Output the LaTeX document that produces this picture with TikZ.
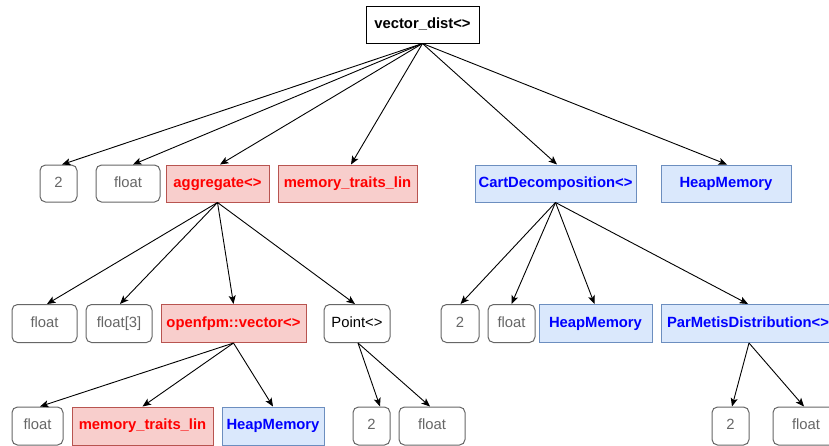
\documentclass[tikz,border=0pt]{standalone}
\usepackage{fontspec}
\setmainfont{Liberation Sans}
\usetikzlibrary{arrows.meta}
\definecolor{greyc}{HTML}{666666}
\definecolor{redfill}{HTML}{F8CECC}
\definecolor{redline}{HTML}{B85450}
\definecolor{redtext}{HTML}{FF0000}
\definecolor{bluefill}{HTML}{DAE8FC}
\definecolor{blueline}{HTML}{6C8EBF}
\definecolor{bluetext}{HTML}{0000FF}
\tikzset{
  base/.style={inner sep=0pt, line width=1pt, font=\fontsize{14.8}{16}\selectfont, anchor=center, text height=10.6pt, text depth=3.1pt},
  rootbox/.style={base, draw=black, fill=white, font=\fontsize{14.8}{16}\selectfont\bfseries},
  greybox/.style={base, draw=greyc, fill=white, text=greyc, rounded corners=5.5pt},
  plainbox/.style={base, draw=greyc, fill=white, text=black, rounded corners=5.5pt},
  redbox/.style={base, draw=redline, fill=redfill, text=redtext, font=\fontsize{14.8}{16}\selectfont\bfseries},
  bluebox/.style={base, draw=blueline, fill=bluefill, text=bluetext, font=\fontsize{14.8}{16}\selectfont\bfseries},
  conn/.style={line width=0.9pt, -{Stealth[length=8.5pt,width=7pt,inset=2pt]}},
}
\begin{document}
\begin{tikzpicture}[x=1pt,y=-1pt]
\useasboundingbox (0,0) rectangle (829,445);
\clip (0,0) rectangle (829,445);
% root
\node[rootbox, minimum width=113, minimum height=37] (root) at (422.5,24.5) {vector\_dist<>};
% row 1
\node[greybox, minimum width=37, minimum height=37] (a2) at (58.5,183.5) {2};
\node[greybox, minimum width=64, minimum height=37] (afl) at (128,183.5) {float};
\node[redbox, minimum width=103, minimum height=37] (agg) at (217.5,183.5) {aggregate<>};
\node[redbox, minimum width=139, minimum height=37] (mtl) at (347.5,183.5) {memory\_traits\_lin};
\node[bluebox, minimum width=161, minimum height=37] (cart) at (555.5,183.5) {CartDecomposition<>};
\node[bluebox, minimum width=130, minimum height=37] (heap) at (726,183.5) {HeapMemory};
% row 2
\node[greybox, minimum width=65, minimum height=38] (bfl) at (44.5,323.5) {float};
\node[greybox, minimum width=66, minimum height=38] (bfl3) at (119,323.5) {float[3]};
\node[redbox, minimum width=145, minimum height=38] (ovec) at (233.5,323.5) {openfpm::vector<>};
\node[plainbox, minimum width=66, minimum height=38] (pt) at (357,323.5) {Point<>};
\node[greybox, minimum width=38, minimum height=38] (b2) at (460,323.5) {2};
\node[greybox, minimum width=47, minimum height=38] (bfl2) at (511.5,323.5) {float};
\node[bluebox, minimum width=113, minimum height=38] (bheap) at (595.5,323.5) {HeapMemory};
\node[bluebox, minimum width=174, minimum height=38] (par) at (748,323.5) {ParMetisDistribution<>};
% row 3
\node[greybox, minimum width=51, minimum height=38] (cfl) at (37.5,426) {float};
\node[redbox, minimum width=141, minimum height=38] (cmtl) at (142.5,426) {memory\_traits\_lin};
\node[bluebox, minimum width=102, minimum height=38] (cheap) at (273,426) {HeapMemory};
\node[greybox, minimum width=37, minimum height=38] (c2) at (371.5,426) {2};
\node[greybox, minimum width=66, minimum height=38] (cfl2) at (432,426) {float};
\node[greybox, minimum width=37, minimum height=38] (d2) at (730.5,426) {2};
\node[greybox, minimum width=66, minimum height=38] (dfl) at (806,426) {float};
% connectors
\draw[conn] (root.south) -- ([xshift=3.5]a2.north);
\draw[conn] (root.south) -- ([xshift=5]afl.north);
\draw[conn] (root.south) -- ([xshift=2.5]agg.north);
\draw[conn] (root.south) -- ([xshift=3.5]mtl.north);
\draw[conn] (root.south) -- ([xshift=1.5]cart.north);
\draw[conn] (root.south) -- ([xshift=1]heap.north);
\draw[conn] (agg.south) -- ([xshift=2.5]bfl.north);
\draw[conn] (agg.south) -- ([xshift=1]bfl3.north);
\draw[conn] (agg.south) -- (ovec.north);
\draw[conn] (agg.south) -- ([xshift=-2]pt.north);
\draw[conn] (cart.south) -- ([xshift=0.5]b2.north);
\draw[conn] (cart.south) -- (bfl2.north);
\draw[conn] (cart.south) -- ([xshift=-1]bheap.north);
\draw[conn] (cart.south) -- (par.north);
\draw[conn] (ovec.south) -- ([xshift=2.5]cfl.north);
\draw[conn] (ovec.south) -- (cmtl.north);
\draw[conn] (ovec.south) -- (cheap.north);
\draw[conn] ([xshift=1]pt.south) -- ([xshift=8.5]c2.north);
\draw[conn] ([xshift=1]pt.south) -- ([xshift=-2]cfl2.north);
\draw[conn] ([xshift=1]par.south) -- ([xshift=1.5]d2.north);
\draw[conn] ([xshift=1]par.south) -- ([xshift=-2]dfl.north);
\end{tikzpicture}
\end{document}
